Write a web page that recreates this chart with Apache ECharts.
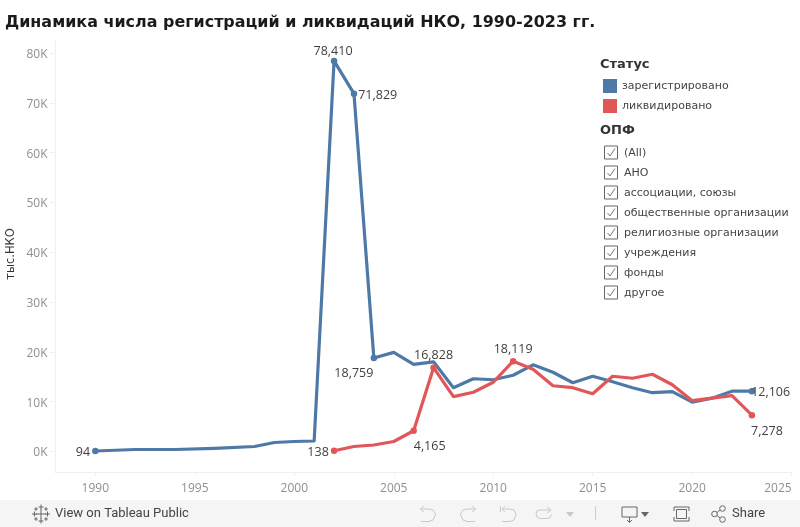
<!DOCTYPE html>
<html><head><meta charset="utf-8">
<style>html,body{margin:0;padding:0;background:#fff}#c{width:800px;height:527px}</style>
<script src="https://cdn.jsdelivr.net/npm/echarts@6/dist/echarts.min.js"></script>
</head><body><div id="c"></div>
<script>
const titleText = 'Динамика числа регистраций и ликвидаций НКО, 1990-2023 гг.';
const yearsReg = [1990,1992,1994,1996,1998,1999,2000,2001,2002,2003,2004,2005,2006,2007,2008,2009,2010,2011,2012,2013,2014,2015,2016,2017,2018,2019,2020,2021,2022,2023];
const registered = [94,400,400,620,1000,1800,2000,2100,78410,71829,18759,19900,17500,18000,12800,14600,14400,15300,17400,15900,13800,15100,14000,12800,11800,12000,9900,10700,12100,12106];
const yearsLiq = [2002,2003,2004,2005,2006,2007,2008,2009,2010,2011,2012,2013,2014,2015,2016,2017,2018,2019,2020,2021,2022,2023];
const liquidated = [138,1000,1300,2000,4165,16828,11000,11900,13900,18119,16500,13200,12800,11600,15100,14700,15500,13400,10200,10700,11200,7278];
const statusNames = ['зарегистрировано','ликвидировано'];
const statusColors = ['#4e79a7','#e15759'];
const filterNames = ['(All)','АНО','ассоциации, союзы','общественные организации','религиозные организации','учреждения','фонды','другое'];
const xTicks = [1990,1995,2000,2005,2010,2015,2020,2025];
const yTicks = [0,10000,20000,30000,40000,50000,60000,70000,80000];

const labelFont = {fontFamily:'"Open Sans"',fontSize:12.5,color:'#404040'};
const regLabels = {
  1990:{position:'left',distance:5,shift:[3,1]},
  2002:{position:'top',distance:3,shift:[-1,3.5]},
  2003:{position:'right',distance:3,shift:[-2,1.5]},
  2004:{position:'bottom',distance:5,shift:[-20,1]},
  2023:{position:'right',distance:-3,shift:[-1,1.5]}
};
const liqLabels = {
  2002:{position:'left',distance:5,shift:[3,1.5]},
  2006:{position:'bottom',distance:5,shift:[16,1]},
  2007:{position:'top',distance:6,shift:[0,3.5]},
  2011:{position:'top',distance:4,shift:[0,2]},
  2023:{position:'bottom',distance:5,shift:[15,1.5]}
};
const fmt = v => v.toLocaleString('en-US');
function build(years, vals, labels){
  return years.map((y,i)=>{
    const l = labels[y];
    return {value:[y,vals[i]],symbolSize:l?6.5:0,
      label:l?Object.assign({show:true,formatter:fmt(vals[i]),position:l.position,distance:l.distance},labelFont):{show:false}};
  });
}
const layoutFor = (years,labels)=>(p)=>{
  const l = labels[years[p.dataIndex]];
  return l?{dx:l.shift[0],dy:l.shift[1],hideOverlap:false}:{};
};
const chart = echarts.init(document.getElementById('c'),null,{renderer:'canvas'});

const g = [];
const txt = (x,y,t,o)=>g.push({type:'text',x,y,silent:true,style:Object.assign({text:t,fill:'#333',font:'11px "DejaVu Sans"',textVerticalAlign:'middle'},o||{})});
txt(5,23,titleText,{font:'bold 15.95px "DejaVu Sans"',fill:'#1a1a1a'});
txt(600,64.5,'Статус',{font:'bold 13px "DejaVu Sans"'});
txt(600,131,'ОПФ',{font:'bold 13px "DejaVu Sans"'});
g.push({type:'text',x:11,y:254,rotation:Math.PI/2,style:{text:'тыс.НКО',font:'11.5px "DejaVu Sans"',fill:'#333',align:'center',verticalAlign:'middle'}});
filterNames.forEach((n,i)=>{
  const y = 152.5+i*20;
  g.push({type:'rect',shape:{x:604.5,y:y-6.5,width:13,height:13},style:{fill:'#fff',stroke:'#666',lineWidth:1}});
  g.push({type:'polyline',shape:{points:[[607.5,y+0.5],[610,y+3.5],[615,y-4]]},style:{fill:'none',stroke:'#777',lineWidth:1}});
  txt(624,y+0.5,n,{font:'11px "DejaVu Sans"',fill:'#444'});
});
// toolbar
g.push({type:'rect',z:-1,shape:{x:0,y:500,width:800,height:27},style:{fill:'#f5f5f5'}});
txt(55,514,'View on Tableau Public',{font:'13px "Roboto"',fill:'#444'});
txt(732,514,'Share',{font:'13px "Roboto"',fill:'#444'});
const tb = '#666', tbl='#c9c9c9';
[[41,514,5],[34.5,514,2.5],[47.5,514,2.5],[41,507,2.5],[41,521,2.5],[36,509,1.8],[46,509,1.8],[36,519,1.8],[46,519,1.8]].forEach(([x,y,r])=>{
  g.push({type:'polyline',shape:{points:[[x-r,y],[x+r,y]]},style:{stroke:tb,lineWidth:1,fill:'none'}});
  g.push({type:'polyline',shape:{points:[[x,y-r],[x,y+r]]},style:{stroke:tb,lineWidth:1,fill:'none'}});
});
const pl=(s,...parts)=>parts.forEach(p=>g.push({type:'polyline',shape:{points:p},style:{fill:'none',stroke:s,lineWidth:1}}));
pl(tbl,[[424,506],[420.5,509],[424,512]],[[420.5,509],[429,509],[433,510],[435.5,514.5],[433,520],[429,521.5],[421,521.5]]);
pl(tbl,[[472,506],[475.5,509],[472,512]],[[475.5,509],[467,509],[463,510],[460.5,514.5],[463,520],[467,521.5],[475,521.5]]);
pl(tbl,[[500.5,506],[500.5,512]],[[502,509],[510,509],[514,510],[516,514.5],[514,520],[510,521.5],[502,521.5]],[[505,506],[502,509],[505,512]]);
pl(tbl,[[547,507],[551,510],[547,513]],[[550,510],[540,510],[537,511],[536,514],[537,517],[540,518.5],[547,518.5],[550,517.5],[551.5,514.5]]);
g.push({type:'polygon',shape:{points:[[566,512],[574,512],[570,517]]},style:{fill:tbl}});
g.push({type:'rect',shape:{x:595,y:506,width:1,height:14},style:{fill:'#ccc'}});
pl(tb,[[622,517],[622,507],[637,507],[637,517],[622,517]],[[629.5,517],[629.5,522]],[[627,520],[629.5,522.5],[632,520]]);
g.push({type:'polygon',shape:{points:[[641,512],[649,512],[645,517]]},style:{fill:tb}});
pl(tb,[[674,511],[674,507],[689,507],[689,511]],[[674,517],[674,521],[689,521],[689,517]],[[676.5,509.5],[686.5,509.5],[686.5,518.5],[676.5,518.5],[676.5,509.5]]);
g.push({type:'circle',shape:{cx:714.5,cy:514,r:2.8},style:{fill:'none',stroke:tb}});
g.push({type:'circle',shape:{cx:722.5,cy:508.5,r:2.8},style:{fill:'none',stroke:tb}});
g.push({type:'circle',shape:{cx:722.5,cy:519.5,r:2.8},style:{fill:'none',stroke:tb}});
pl(tb,[[717,512.5],[720,510]],[[717,515.5],[720,518]]);

chart.setOption({
  animation:false,
  backgroundColor:'#fff',
  grid:{left:55.5,right:8.3,top:41,bottom:55},
  legend:{
    orient:'vertical',left:598,top:79,itemWidth:14,itemHeight:14,itemGap:6,icon:'rect',
    data:statusNames,selectedMode:false,
    textStyle:{fontFamily:'"DejaVu Sans"',fontSize:11,color:'#444'},padding:[0,0,0,5]
  },
  xAxis:{type:'value',min:1988,max:2025,interval:5,
    axisLine:{show:true,onZero:false,lineStyle:{color:'#efefef'}},
    axisTick:{show:true,length:4,lineStyle:{color:'#efefef'},customValues:xTicks},
    axisLabel:{customValues:xTicks,formatter:v=>String(v),
      color:'#8f8f8f',fontFamily:'"Open Sans"',fontSize:12,margin:11,alignMaxLabel:'right'},
    splitLine:{show:false}},
  yAxis:{type:'value',min:-4120,max:82400,
    axisLine:{show:true,lineStyle:{color:'#efefef'}},
    axisTick:{show:true,length:5,lineStyle:{color:'#efefef'},customValues:yTicks},
    axisLabel:{customValues:yTicks,formatter:v=>(v/1000)+'K',verticalAlign:'top',lineHeight:3,
      color:'#8f8f8f',fontFamily:'"Open Sans"',fontSize:12,margin:8},
    splitLine:{show:false}},
  series:[
    {name:statusNames[0],type:'line',color:statusColors[0],symbol:'circle',showSymbol:true,showAllSymbols:true,
      lineStyle:{width:3.2,color:statusColors[0],join:'round'},itemStyle:{color:statusColors[0]},emphasis:{disabled:true},
      labelLayout:layoutFor(yearsReg,regLabels),
      data:build(yearsReg,registered,regLabels)},
    {name:statusNames[1],type:'line',color:statusColors[1],symbol:'circle',showSymbol:true,showAllSymbols:true,
      lineStyle:{width:3.2,color:statusColors[1],join:'round'},itemStyle:{color:statusColors[1]},emphasis:{disabled:true},
      labelLayout:layoutFor(yearsLiq,liqLabels),
      data:build(yearsLiq,liquidated,liqLabels)}
  ],
  graphic:g
});
</script></body></html>
